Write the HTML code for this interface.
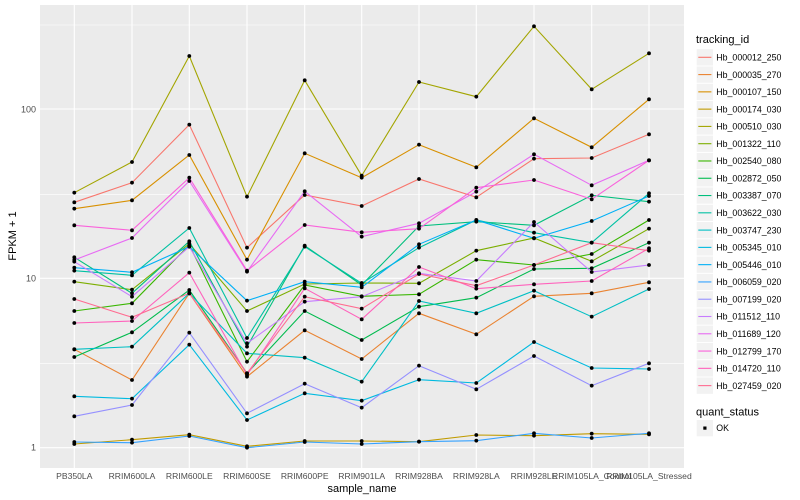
<!DOCTYPE html>
<html><head><meta charset="utf-8"><style>body{margin:0;background:#fff}svg{display:block;font-family:"Liberation Sans",sans-serif}</style></head>
<body>
<svg id="s" width="800" height="500" xmlns="http://www.w3.org/2000/svg">
<rect x="40" y="5" width="644" height="463" fill="#ebebeb"/>
<g stroke="#fff" stroke-width="0.6"><line x1="40" x2="684" y1="25" y2="25"/><line x1="40" x2="684" y1="194.3" y2="194.3"/><line x1="40" x2="684" y1="363.3" y2="363.3"/></g>
<g id="grid" stroke="#fff" stroke-width="1.1"></g>
<g id="lines" fill="none" stroke-width="1.1"></g>
<g id="pts" fill="#000"></g>
<g font-size="9" fill="#4d4d4d" text-anchor="end"><text x="36" y="450.7">1</text><text x="36" y="281.7">10</text><text x="36" y="112.5">100</text></g>
<g id="xl" font-size="8.6" fill="#4d4d4d" text-anchor="middle"></g>
<text x="362" y="492" font-size="11" text-anchor="middle">sample_name</text>
<text transform="translate(16,236) rotate(-90)" font-size="11" text-anchor="middle">FPKM + 1</text>
<text x="696" y="43" font-size="11">tracking_id</text>
<g id="leg" font-size="8.8"></g>
<text x="696" y="415.5" font-size="11">quant_status</text>
<rect x="696.7" y="420" width="16.3" height="16.3" fill="#f2f2f2"/>
<rect x="703.3" y="426.5" width="3.2" height="3.2" fill="#000"/>
<text x="716.3" y="431.2" font-size="8.8">OK</text>
</svg>
<script>
var ns="http://www.w3.org/2000/svg";
function el(p,t,a,txt){var e=document.createElementNS(ns,t);for(var k in a)e.setAttribute(k,a[k]);if(txt)e.textContent=txt;document.getElementById(p).appendChild(e);return e;}
var X=[74.3,132,189.3,247,304.7,361.7,419,476.3,534,591.7,649];
var names=["PB350LA","RRIM600LA","RRIM600LE","RRIM600SE","RRIM600PE","RRIM901LA","RRIM928BA","RRIM928LA","RRIM928LE","RRIM105LA_Control","RRIM105LA_Stressed"];
[109,278.3,447.7].forEach(function(y){el("grid","line",{x1:40,x2:684,y1:y,y2:y});});
X.forEach(function(x,i){el("grid","line",{x1:x,x2:x,y1:5,y2:468});el("xl","text",{x:x,y:479},names[i]);});
var cols=["#F8766D","#EA8331","#D89000","#C09B00","#A3A500","#7CAE00","#39B600","#00BB4E","#00BF7D","#00C1A3","#00BFC4","#00BAE0","#00B0F6","#35A2FF","#9590FF","#C77CFF","#E76BF3","#FA62DB","#FF62BC","#FF6C91"];
var ids=["Hb_000012_250","Hb_000035_270","Hb_000107_150","Hb_000174_030","Hb_000510_030","Hb_001322_110","Hb_002540_080","Hb_002872_050","Hb_003387_070","Hb_003622_030","Hb_003747_230","Hb_005345_010","Hb_005446_010","Hb_006059_020","Hb_007199_020","Hb_011512_110","Hb_011689_120","Hb_012799_170","Hb_014720_110","Hb_027459_020"];
var D=[
[607,548,374,743,585,618,537,592,476,474,403],
[1048,1140,880,1130,991,1077,940,1003,889,880,847],
[626,601,465,779,460,533,434,502,355,442,298],
[1332,1319,1304,1339,1323,1323,1325,1305,1307,1301,1303],
[578,486,168,590,241,527,246,290,79,268,160],
[845,869,731,933,852,849,850,752,714,784,686],
[933,910,735,1085,855,889,883,779,795,762,660],
[1071,997,870,1120,933,1020,920,893,807,805,728],
[772,880,724,1040,737,855,678,665,676,586,605],
[812,826,684,1014,740,850,743,660,698,728,580],
[1048,1040,880,1060,1073,1145,903,940,872,950,867],
[1189,1196,1034,1260,1180,1202,1139,1149,1026,1104,1107],
[803,817,740,902,845,862,733,660,715,663,588],
[1326,1328,1308,1343,1326,1332,1325,1322,1300,1314,1300],
[1249,1215,998,1240,1151,1223,1097,1168,1068,1157,1090],
[785,890,740,1030,905,890,820,843,666,816,795],
[780,714,543,815,574,710,670,575,463,556,481],
[676,691,533,812,675,697,686,563,540,598,481],
[969,963,818,1125,865,958,801,866,853,843,745],
[897,952,880,1120,890,926,822,857,795,728,752]];
D.forEach(function(r,i){var p=r.map(function(v,j){return X[j]+","+(v/3).toFixed(1);}).join(" ");el("lines","polyline",{points:p,stroke:cols[i]});
r.forEach(function(v,j){el("pts","circle",{cx:X[j],cy:v/3,r:1.9});});
var cy=57.3+i*17.28;el("leg","rect",{x:696.7,y:cy-8.1,width:16.3,height:16.3,fill:"#f2f2f2"});
el("leg","line",{x1:698.3,x2:711.4,y1:cy,y2:cy,stroke:cols[i],"stroke-width":1.1});
el("leg","text",{x:716.3,y:cy+3.2},ids[i]);});
</script>
</body></html>
